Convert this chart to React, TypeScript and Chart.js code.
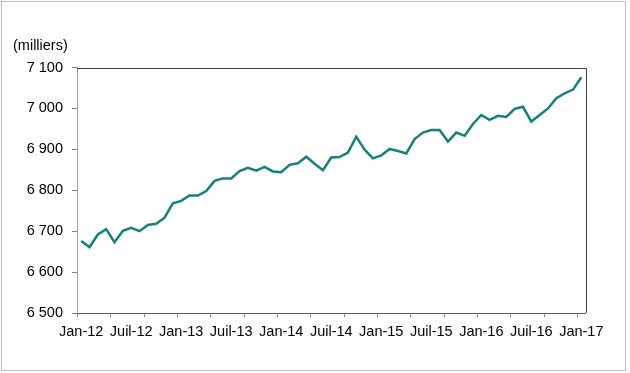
import React, { useEffect, useRef } from "react";
import { Chart, registerables } from "chart.js";

Chart.register(...registerables);

const MONTH_NAMES = ["Jan", "Fév", "Mar", "Avr", "Mai", "Juin", "Juil", "Août", "Sep", "Oct", "Nov", "Déc"];
const YEARS = ["12", "13", "14", "15", "16", "17"];
const CATEGORIES: string[] = [];
YEARS.forEach((y) => MONTH_NAMES.forEach((m) => CATEGORIES.push(`${m}-${y}`)));
const LABELS = CATEGORIES.slice(0, 61); // Jan-12 .. Jan-17

const EMPLOYMENT = [
  6676, 6661, 6692, 6705, 6673, 6701, 6708, 6700, 6715, 6718, 6733, 6768,
  6774, 6787, 6787, 6798, 6823, 6829, 6829, 6847, 6855, 6848, 6857, 6846,
  6844, 6862, 6866, 6882, 6865, 6849, 6880, 6881, 6892, 6931, 6899, 6878,
  6885, 6901, 6896, 6890, 6925, 6941, 6947, 6947, 6919, 6941, 6933, 6962,
  6984, 6972, 6982, 6979, 6999, 7004, 6968, 6984, 7000, 7025, 7037, 7046,
  7076,
];

const Y_MIN = 6500;
const Y_MAX = 7100;
const Y_STEP = 100;
const UNIT_LABEL = "(milliers)";
const LABEL_EVERY = 6;
const TICK_MARK_EVERY = 4;

const FONT_FAMILY = "'Liberation Sans', Arial, sans-serif";
const FONT_SIZE = 14.5;

function fmt(v: number): string {
  const th = Math.floor(v / 1000);
  const rest = String(Math.round(v % 1000)).padStart(3, "0");
  return th > 0 ? `${th} ${rest}` : String(v);
}

const framePlugin = {
  id: "frame",
  afterDraw(chart: any) {
    const { ctx, chartArea } = chart;
    const xs = chart.scales.x;
    ctx.save();
    // top and right border of the plot area
    ctx.strokeStyle = "#404040";
    ctx.lineWidth = 1;
    ctx.beginPath();
    ctx.moveTo(chartArea.left, Math.round(chartArea.top) + 0.5);
    ctx.lineTo(Math.round(chartArea.right) + 0.5, Math.round(chartArea.top) + 0.5);
    ctx.lineTo(Math.round(chartArea.right) + 0.5, chartArea.bottom);
    ctx.stroke();
    // x tick marks at category boundaries
    const w = xs.getPixelForValue(1) - xs.getPixelForValue(0);
    ctx.strokeStyle = "#808080";
    ctx.beginPath();
    for (let i = 0; i < LABELS.length; i += TICK_MARK_EVERY) {
      const x = Math.round(xs.getPixelForValue(i) - w / 2) + 0.5;
      ctx.moveTo(x, chartArea.bottom);
      ctx.lineTo(x, chartArea.bottom + 4);
    }
    ctx.stroke();
    // unit label
    ctx.fillStyle = "#000";
    ctx.font = `${FONT_SIZE}px ${FONT_FAMILY}`;
    ctx.textAlign = "left";
    ctx.textBaseline = "middle";
    ctx.fillText(UNIT_LABEL, 13, 46);
    ctx.restore();
  },
};

export default function App() {
  const ref = useRef<HTMLCanvasElement | null>(null);

  useEffect(() => {
    document.body.style.margin = "0";
    if (!ref.current) return;
    const chart = new Chart(ref.current, {
      type: "line",
      data: {
        labels: LABELS,
        datasets: [
          {
            data: EMPLOYMENT,
            borderColor: "#17807b",
            borderWidth: 2.5,
            pointRadius: 0,
            tension: 0,
            fill: false,
          },
        ],
      },
      options: {
        animation: false,
        responsive: false,
        maintainAspectRatio: false,
        layout: { padding: { left: 0, top: 67.5, right: 44.5, bottom: 0 } },
        plugins: {
          legend: { display: false },
          tooltip: { enabled: false },
        },
        scales: {
          x: {
            type: "category",
            offset: true,
            afterFit: (s: any) => {
              s.height = 60;
            },
            border: { display: true, color: "#595959", width: 1 },
            grid: {
              display: true,
              drawOnChartArea: false,
              drawTicks: true,
              tickLength: 4,
              color: "rgba(0,0,0,0)",
            },
            ticks: {
              autoSkip: false,
              maxRotation: 0,
              minRotation: 0,
              padding: 6,
              color: "#000",
              font: { family: FONT_FAMILY, size: FONT_SIZE },
              callback: (_v: any, i: number) => (i % LABEL_EVERY === 0 ? LABELS[i] : null),
            },
          },
          y: {
            min: Y_MIN,
            max: Y_MAX,
            afterFit: (s: any) => {
              s.width = 77;
            },
            border: { display: true, color: "#a0a0a0", width: 1 },
            grid: {
              drawOnChartArea: false,
              drawTicks: true,
              tickLength: 5,
              color: "#808080",
            },
            ticks: {
              stepSize: Y_STEP,
              padding: 9,
              color: "#000",
              font: { family: FONT_FAMILY, size: FONT_SIZE },
              callback: (v: any) => fmt(Number(v)),
            },
          },
        },
      },
      plugins: [framePlugin],
    });
    return () => chart.destroy();
  }, []);

  return (
    <div style={{ position: "fixed", left: 0, top: 0, width: 630, height: 373, background: "#fff" }}>
      <canvas ref={ref} width={630} height={373} style={{ display: "block" }} />
      <div
        style={{
          position: "absolute",
          left: 1,
          top: 1,
          width: 625,
          height: 370,
          boxSizing: "border-box",
          border: "1px solid #bfbfbf",
          pointerEvents: "none",
        }}
      />
    </div>
  );
}
